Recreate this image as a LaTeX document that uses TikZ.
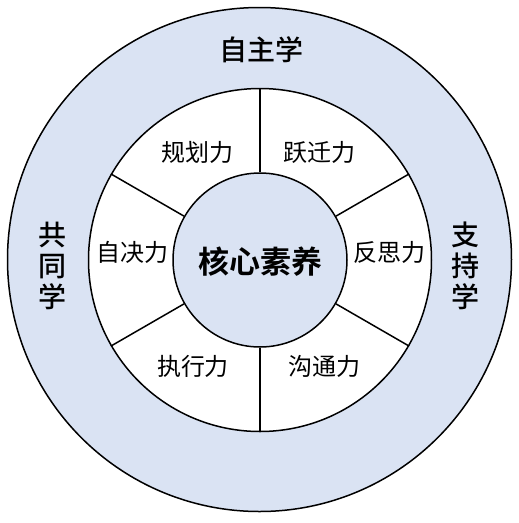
\documentclass[tikz,border=0pt]{standalone}
\usepackage{fontspec}
\setmainfont{Noto Sans CJK SC}
\newfontfamily\cjkbold{Noto Sans CJK SC Bold}
\newfontfamily\cjkmed{Noto Sans CJK SC Medium}
\definecolor{ringblue}{HTML}{DAE3F3}
\begin{document}
\begin{tikzpicture}[x=1pt,y=1pt,
  ring/.style={circle,draw=black,line width=1.5pt,inner sep=0pt},
  spoke/.style={draw=black,line width=1.5pt},
  outerlbl/.style={font=\cjkmed\fontsize{28}{30}\selectfont,inner sep=0pt},
  innerlbl/.style={font=\fontsize{24}{26}\selectfont,inner sep=0pt},
  vlbl/.style={font=\cjkmed\fontsize{28}{31}\selectfont,inner sep=0pt,align=center}]
\useasboundingbox (0,0) rectangle (519,-523);
\node[ring,fill=ringblue,minimum size=504pt] (outer) at (259.5,-259.5) {};
\node[ring,fill=white,minimum size=343pt] (mid) at (260,-260) {};
\node[ring,fill=ringblue,minimum size=174pt] (core) at (260,-260) {};
\foreach \a in {30,90,150,210,270,330}{
  \draw[spoke] (core.\a) -- (mid.\a);
}
\node[font=\cjkbold\fontsize{31}{33}\selectfont,inner sep=0pt] (c) at (260,-262) {核心素养};
\node[outerlbl] (t1) at (261,-50) {自主学};
\node[vlbl] (t2) at (52,-266) {共\\同\\学};
\node[vlbl] (t3) at (465,-266) {支\\持\\学};
\node[innerlbl] (l1) at (197,-152) {规划力};
\node[innerlbl] (l2) at (319,-152) {跃迁力};
\node[innerlbl] (l3) at (389,-252) {反思力};
\node[innerlbl] (l4) at (324,-366) {沟通力};
\node[innerlbl] (l5) at (193,-366) {执行力};
\node[innerlbl] (l6) at (132,-252) {自决力};
\end{tikzpicture}
\end{document}
